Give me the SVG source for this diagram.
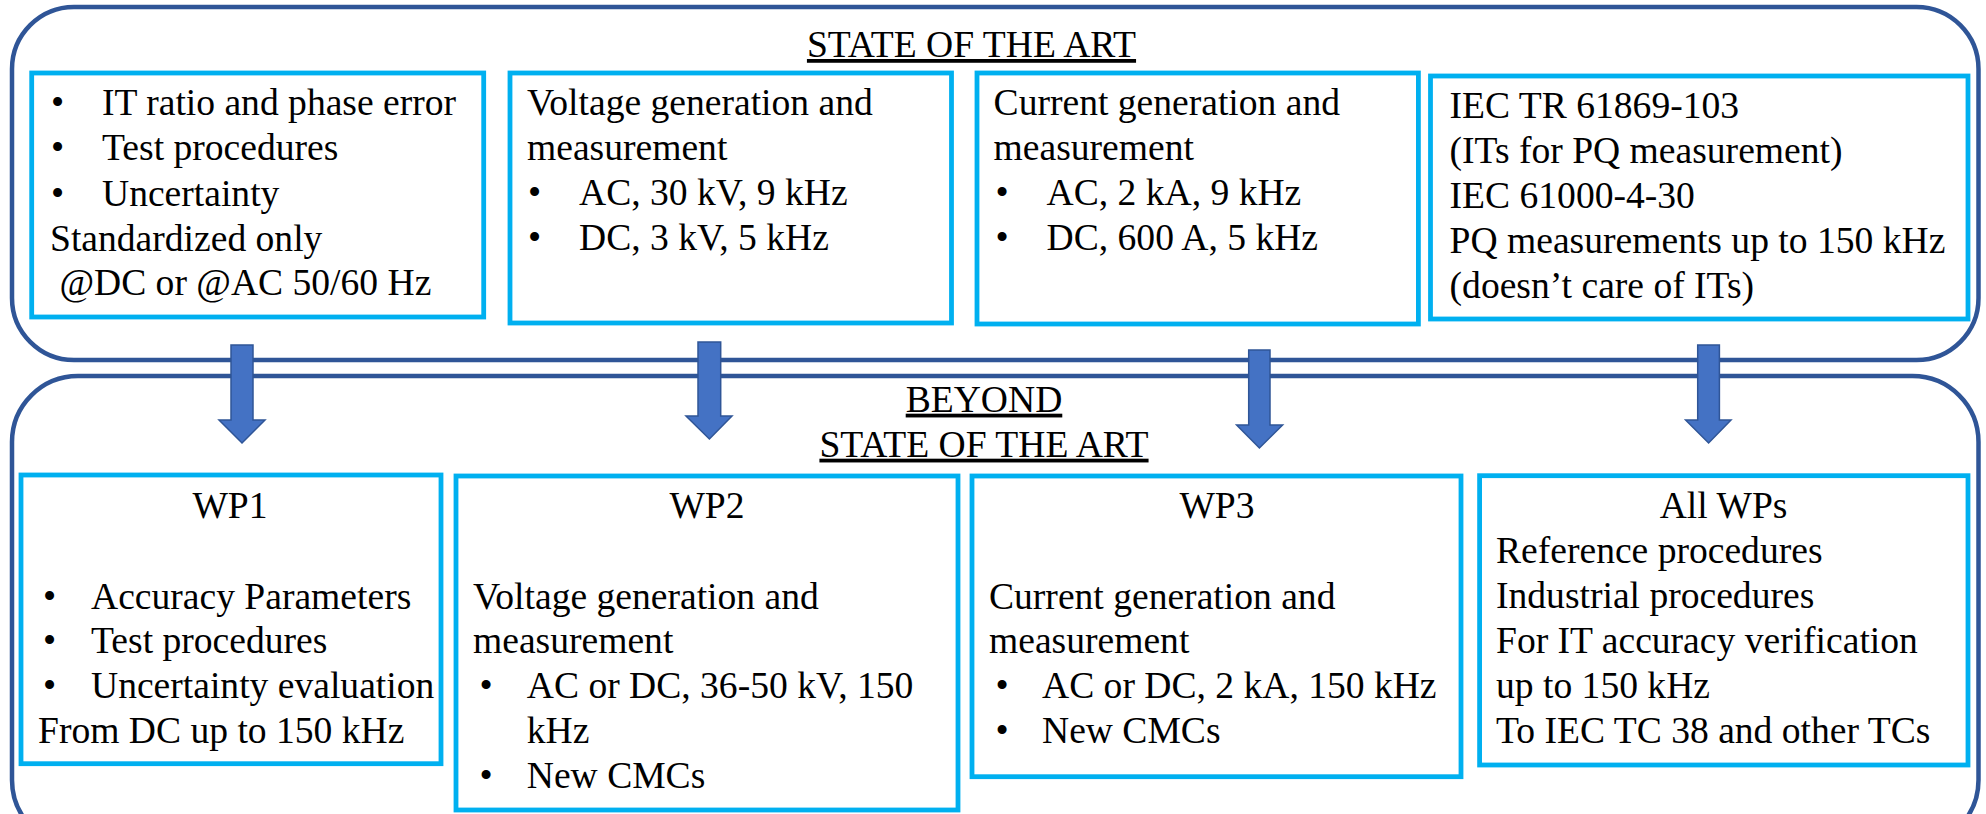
<svg xmlns="http://www.w3.org/2000/svg" width="1986" height="814" viewBox="0 0 1986 814">
<style>
.outer{fill:none;stroke:#2F5597;stroke-width:4.5}
.box{fill:#FFFFFF;stroke:#00B0F0;stroke-width:4.8}
.arrow{fill:#4472C4;stroke:#2F5597;stroke-width:1.5;stroke-linejoin:miter}
text{font-family:'Liberation Serif','Times New Roman','DejaVu Serif',serif;font-size:37.6px;fill:#000000}
.title{text-decoration:underline}
.mid{text-anchor:middle}
</style>
<rect width="1986" height="814" fill="#FFFFFF"/>
<g id="state-of-the-art">
<rect class="outer" x="12" y="7" width="1966.5" height="353" rx="62" ry="62"/>
<text class="title mid" x="971.5" y="57">STATE OF THE ART</text>
</g>
<g id="beyond-state-of-the-art">
<rect class="outer" x="12" y="376" width="1966.5" height="470" rx="66" ry="66"/>
<text class="title mid" x="984" y="411.7">BEYOND</text>
<text class="title mid" x="984" y="456.7">STATE OF THE ART</text>
</g>
<g id="soa-it">
<rect class="box" x="31.7" y="73" width="452" height="244"/>
<text><tspan x="51" y="115">•</tspan><tspan x="102" y="115">IT ratio and phase error</tspan><tspan x="51" y="160">•</tspan><tspan x="102" y="160">Test procedures</tspan><tspan x="51" y="205.5">•</tspan><tspan x="102" y="205.5">Uncertainty</tspan><tspan x="50" y="250.5">Standardized only</tspan><tspan x="50" y="295"> @DC or @AC 50/60 Hz</tspan></text>
</g>
<g id="soa-voltage">
<rect class="box" x="510" y="73" width="441.5" height="250"/>
<text><tspan x="527" y="115">Voltage generation and</tspan><tspan x="527" y="160">measurement</tspan><tspan x="528" y="205">•</tspan><tspan x="579" y="205">AC, 30 kV, 9 kHz</tspan><tspan x="528" y="250">•</tspan><tspan x="579" y="250">DC, 3 kV, 5 kHz</tspan></text>
</g>
<g id="soa-current">
<rect class="box" x="977" y="73" width="441.4" height="251"/>
<text><tspan x="993.6" y="115">Current generation and</tspan><tspan x="993.6" y="160">measurement</tspan><tspan x="995.6" y="205">•</tspan><tspan x="1046.6" y="205">AC, 2 kA, 9 kHz</tspan><tspan x="995.6" y="250">•</tspan><tspan x="1046.6" y="250">DC, 600 A, 5 kHz</tspan></text>
</g>
<g id="soa-iec">
<rect class="box" x="1430.5" y="76" width="537.5" height="243"/>
<text><tspan x="1449.6" y="118">IEC TR 61869-103</tspan><tspan x="1449.6" y="163">(ITs for PQ measurement)</tspan><tspan x="1449.6" y="208">IEC 61000-4-30</tspan><tspan x="1449.6" y="253">PQ measurements up to 150 kHz</tspan><tspan x="1449.6" y="298">(doesn’t care of ITs)</tspan></text>
</g>
<g id="wp1">
<rect class="box" x="21" y="475" width="420" height="288.7"/>
<text class="mid" x="230" y="518">WP1</text>
<text><tspan x="43" y="609">•</tspan><tspan x="91" y="609">Accuracy Parameters</tspan><tspan x="43" y="653">•</tspan><tspan x="91" y="653">Test procedures</tspan><tspan x="43" y="698">•</tspan><tspan x="91" y="698">Uncertainty evaluation</tspan><tspan x="38" y="742.7">From DC up to 150 kHz</tspan></text>
</g>
<g id="wp2">
<rect class="box" x="456" y="476" width="502" height="334"/>
<text class="mid" x="707" y="518">WP2</text>
<text><tspan x="473" y="609">Voltage generation and</tspan><tspan x="473" y="653">measurement</tspan><tspan x="479.6" y="698">•</tspan><tspan x="526.8" y="698">AC or DC, 36-50 kV, 150</tspan><tspan x="526.8" y="742.7">kHz</tspan><tspan x="479.6" y="788">•</tspan><tspan x="526.8" y="788">New CMCs</tspan></text>
</g>
<g id="wp3">
<rect class="box" x="972" y="476" width="489" height="300.7"/>
<text class="mid" x="1217" y="518">WP3</text>
<text><tspan x="989" y="609">Current generation and</tspan><tspan x="989" y="653">measurement</tspan><tspan x="995.6" y="698">•</tspan><tspan x="1042" y="698">AC or DC, 2 kA, 150 kHz</tspan><tspan x="995.6" y="742.7">•</tspan><tspan x="1042" y="742.7">New CMCs</tspan></text>
</g>
<g id="all-wps">
<rect class="box" x="1479.6" y="475.7" width="488.4" height="289.3"/>
<text class="mid" x="1723.6" y="518">All WPs</text>
<text><tspan x="1496" y="563">Reference procedures</tspan><tspan x="1496" y="608">Industrial procedures</tspan><tspan x="1496" y="653">For IT accuracy verification</tspan><tspan x="1496" y="698">up to 150 kHz</tspan><tspan x="1496" y="742.7">To IEC TC 38 and other TCs</tspan></text>
</g>
<g id="connectors">
<polygon class="arrow" points="231,345 253,345 253,420 265,420 242,443 219,420 231,420"/>
<polygon class="arrow" points="698,342 720.7,342 720.7,416 732,416 709.4,439 686,416 698,416"/>
<polygon class="arrow" points="1248.7,350 1270,350 1270,425 1282.6,425 1259.4,448 1236.6,425 1248.7,425"/>
<polygon class="arrow" points="1697.7,345 1719.4,345 1719.4,420 1731,420 1708.6,443 1685.6,420 1697.7,420"/>
</g>
</svg>
